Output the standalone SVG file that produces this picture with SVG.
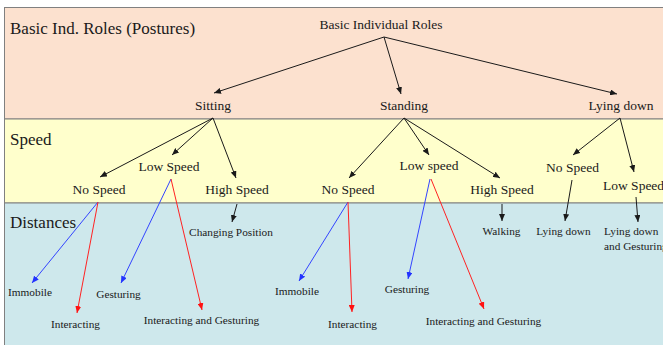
<svg xmlns="http://www.w3.org/2000/svg" width="663" height="345" viewBox="0 0 663 345">
<style>
  text { font-family: "Liberation Serif", "Times New Roman", serif; fill: #1a1a1a; }
  .band { stroke: #808080; stroke-width: 1; }
  .title { font-size: 17px; }
  .node { font-size: 13.5px; text-anchor: middle; }
  .leaf { font-size: 11.3px; text-anchor: middle; }
  .st { text-anchor: start; }
  .k { stroke: #1a1a1a; stroke-width: 1; fill: none; marker-end: url(#ak); }
  .b { stroke: #3344ff; stroke-width: 1; fill: none; marker-end: url(#ab); }
  .r { stroke: #ff2222; stroke-width: 1; fill: none; marker-end: url(#ar); }
</style>
<defs>
  <marker id="ak" viewBox="0 0 7 6" refX="7" refY="3" markerWidth="7" markerHeight="6" markerUnits="userSpaceOnUse" orient="auto"><path d="M0,0 L7,3 L0,6 z" fill="#1a1a1a"/></marker>
  <marker id="ab" viewBox="0 0 7 6" refX="7" refY="3" markerWidth="7" markerHeight="6" markerUnits="userSpaceOnUse" orient="auto"><path d="M0,0 L7,3 L0,6 z" fill="#2233ff"/></marker>
  <marker id="ar" viewBox="0 0 7 6" refX="7" refY="3" markerWidth="7" markerHeight="6" markerUnits="userSpaceOnUse" orient="auto"><path d="M0,0 L7,3 L0,6 z" fill="#ff1111"/></marker>
</defs>
<rect width="663" height="345" fill="#ffffff"/>
<g id="bands">
  <rect class="band" x="4.5" y="7.5" width="670" height="111.5" fill="#fce1cf"/>
  <rect class="band" x="4.5" y="119" width="670" height="84" fill="#ffffcc"/>
  <rect class="band" x="4.5" y="203" width="670" height="150" fill="#cee8ec"/>
  <text class="title" x="10" y="34">Basic Ind. Roles (Postures)</text>
  <text class="title" x="10" y="145">Speed</text>
  <text class="title" x="10" y="228">Distances</text>
</g>
<g id="connectors">
  <line class="k" x1="384" y1="37" x2="214" y2="93"/>
  <line class="k" x1="384" y1="37" x2="401" y2="94"/>
  <line class="k" x1="384" y1="37" x2="617" y2="94"/>
  <line class="k" x1="213" y1="118" x2="100" y2="177"/>
  <line class="k" x1="213" y1="118" x2="172" y2="155"/>
  <line class="k" x1="213" y1="118" x2="236" y2="178"/>
  <line class="k" x1="404" y1="118" x2="349" y2="178"/>
  <line class="k" x1="404" y1="118" x2="429" y2="155"/>
  <line class="k" x1="404" y1="118" x2="500" y2="178"/>
  <line class="k" x1="620" y1="118" x2="573" y2="155"/>
  <line class="k" x1="620" y1="118" x2="634" y2="172"/>
  <line class="b" x1="98" y1="202" x2="32" y2="283"/>
  <line class="r" x1="98" y1="202" x2="77" y2="313"/>
  <line class="b" x1="171" y1="179" x2="121" y2="283"/>
  <line class="r" x1="171" y1="179" x2="202" y2="310"/>
  <line class="k" x1="237" y1="204" x2="232" y2="222"/>
  <line class="b" x1="348" y1="202" x2="299" y2="281"/>
  <line class="r" x1="348" y1="202" x2="352" y2="312"/>
  <line class="b" x1="430" y1="179" x2="408" y2="279"/>
  <line class="r" x1="431" y1="179" x2="484" y2="309"/>
  <line class="k" x1="502" y1="204" x2="502" y2="221"/>
  <line class="k" x1="572" y1="180" x2="565" y2="221"/>
  <line class="k" x1="636" y1="197" x2="638" y2="222"/>
</g>
<g id="n-root"><text class="node" x="381" y="29" font-size="13">Basic Individual Roles</text></g>
<g id="n-sitting"><text class="node" x="213" y="110">Sitting</text></g>
<g id="n-standing"><text class="node" x="404" y="110">Standing</text></g>
<g id="n-lying"><text class="node" x="621" y="110">Lying down</text></g>
<g id="n-sit-no"><text class="node" x="99" y="194">No Speed</text></g>
<g id="n-sit-low"><text class="node" x="169" y="171">Low Speed</text></g>
<g id="n-sit-high"><text class="node" x="237" y="194">High Speed</text></g>
<g id="n-st-no"><text class="node" x="348" y="194">No Speed</text></g>
<g id="n-st-low"><text class="node" x="429" y="170">Low speed</text></g>
<g id="n-st-high"><text class="node" x="502" y="194">High Speed</text></g>
<g id="n-ly-no"><text class="node" x="572.5" y="171.5">No Speed</text></g>
<g id="n-ly-low"><text class="node st" x="603" y="190">Low Speed</text></g>
<g id="l-changing"><text class="leaf" x="231" y="236">Changing Position</text></g>
<g id="l-immobile1"><text class="leaf" x="30" y="296">Immobile</text></g>
<g id="l-interacting1"><text class="leaf" x="75.5" y="328">Interacting</text></g>
<g id="l-gesturing1"><text class="leaf" x="118.5" y="297.5">Gesturing</text></g>
<g id="l-intges1"><text class="leaf" x="201.5" y="324">Interacting and Gesturing</text></g>
<g id="l-immobile2"><text class="leaf" x="297" y="295">Immobile</text></g>
<g id="l-interacting2"><text class="leaf" x="352.5" y="328">Interacting</text></g>
<g id="l-gesturing2"><text class="leaf" x="407" y="293">Gesturing</text></g>
<g id="l-intges2"><text class="leaf" x="483.5" y="324.5">Interacting and Gesturing</text></g>
<g id="l-walking"><text class="leaf" x="501.5" y="235">Walking</text></g>
<g id="l-lyingdown"><text class="leaf" x="563.5" y="235">Lying down</text></g>
<g id="l-lyingges"><text class="leaf st" x="604" y="235">Lying down</text><text class="leaf st" x="604" y="250">and Gesturing</text></g>
</svg>
